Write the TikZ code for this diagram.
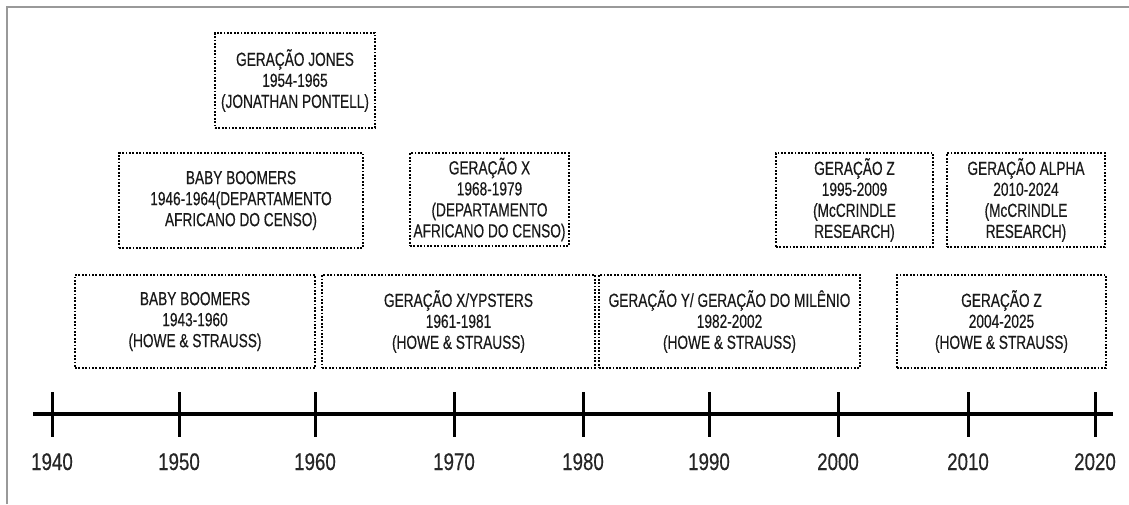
\documentclass[tikz,border=0pt]{standalone}
\usepackage{fontspec}
\setmainfont{Liberation Sans}
\newfontfamily\boxfont[FakeStretch=0.72,FakeBold=0.4]{Liberation Sans}
\newfontfamily\yearfont[FakeStretch=0.78,FakeBold=0.3]{Liberation Sans}
\begin{document}
\begin{tikzpicture}[x=1pt,y=-1pt,
  genbox/.style={draw=black, line width=2.4pt, dash pattern=on 1.8pt off 1.6pt,
    inner sep=0pt, align=center, font=\boxfont\fontsize{19}{21}\selectfont, text=black!90},
  yearlbl/.style={anchor=base, inner sep=0pt, font=\yearfont\fontsize{24}{26}\selectfont, text=black!85},
  ticksty/.style={line width=3pt, black},
  axissty/.style={line width=4.5pt, black}
]
\useasboundingbox (0,0) rectangle (1129,504);
\draw[gray!80, line width=2pt] (7,504) -- (7,7) -- (1129,7);

% top row
\node[genbox, minimum width=160pt, minimum height=95pt] (jones) at (295,80.5)
  {GERAÇÃO JONES\\1954-1965\\(JONATHAN PONTELL)};

% middle row
\node[genbox, minimum width=244pt, minimum height=95pt] (bbc) at (241,200.5)
  {BABY BOOMERS\\1946-1964(DEPARTAMENTO\\AFRICANO DO CENSO)};
\node[genbox, minimum width=159pt, minimum height=93pt] (gxc) at (489.5,199.5)
  {GERAÇÃO X\\1968-1979\\(DEPARTAMENTO\\AFRICANO DO CENSO)};
\node[genbox, minimum width=157pt, minimum height=94pt] (gzm) at (854.5,200)
  {GERAÇÃO Z\\1995-2009\\(McCRINDLE\\RESEARCH)};
\node[genbox, minimum width=158pt, minimum height=94pt] (alpha) at (1026,200)
  {GERAÇÃO ALPHA\\2010-2024\\(McCRINDLE\\RESEARCH)};

% bottom row
\node[genbox, minimum width=240pt, minimum height=93pt] (bbh) at (195,321.5)
  {BABY BOOMERS\\1943-1960\\(HOWE \& STRAUSS)};
\node[genbox, minimum width=273pt, minimum height=93pt] (xyh) at (458.5,321.5)
  {GERAÇÃO X/YPSTERS\\1961-1981\\(HOWE \& STRAUSS)};
\node[genbox, minimum width=261pt, minimum height=93pt] (yh) at (729.5,321.5)
  {GERAÇÃO Y/ GERAÇÃO DO MILÊNIO\\1982-2002\\(HOWE \& STRAUSS)};
\node[genbox, minimum width=209pt, minimum height=93pt] (zh) at (1001.5,321.5)
  {GERAÇÃO Z\\2004-2025\\(HOWE \& STRAUSS)};

% axis
\coordinate (axL) at (33,414);
\coordinate (axR) at (1113,414);
\draw[axissty] (axL) -- (axR);
\foreach \x/\yr in {52/1940,179/1950,315/1960,454/1970,583/1980,709/1990,838/2000,968/2010,1095/2020}{
  \coordinate (t\yr a) at (\x,392);
  \coordinate (t\yr b) at (\x,437);
  \draw[ticksty] (t\yr a) -- (t\yr b);
  \node[yearlbl] (y\yr) at (\x,470) {\yr};
}
\end{tikzpicture}
\end{document}
